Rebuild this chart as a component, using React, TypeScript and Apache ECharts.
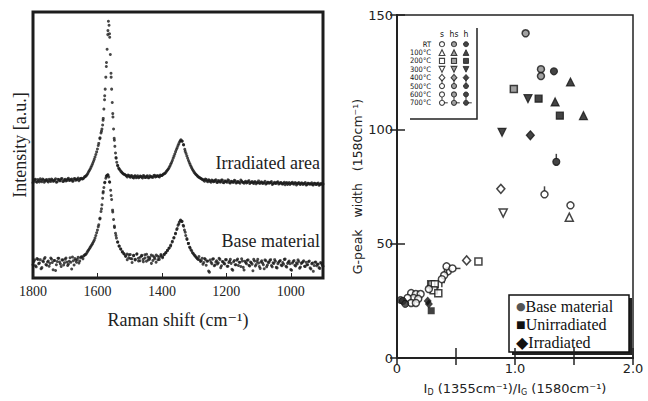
import React, { useEffect, useRef } from 'react';
import * as echarts from 'echarts';

// ---------- Left panel: Raman spectra [wavenumber, intensity(a.u.)] ----------
const RAMAN_TICKS = [1000, 1200, 1400, 1600, 1800];

const IRRADIATED: [number, number][] = [
  [1800, 35.8], [1795, 36.9], [1790, 36.2], [1785, 37.0], [1780, 36.1], [1775, 36.7], [1770, 37.2], [1765, 36.0],
  [1760, 36.8], [1755, 36.4], [1750, 37.1], [1745, 36.3], [1740, 36.9], [1735, 36.5], [1730, 37.3], [1725, 36.2],
  [1720, 37.0], [1715, 36.6], [1710, 37.4], [1705, 36.4], [1700, 37.1], [1695, 36.7], [1690, 37.5], [1685, 36.8],
  [1680, 37.2], [1675, 36.5], [1670, 37.4], [1665, 36.9], [1660, 37.6], [1655, 37.0], [1650, 37.5], [1645, 37.3],
  [1640, 38.0], [1635, 38.4], [1630, 39.3], [1625, 40.4], [1620, 41.6], [1615, 43.0], [1610, 44.6], [1605, 46.4],
  [1600, 48.5], [1596, 50.6], [1592, 52.7], [1589, 54.5], [1586, 56.0], [1584, 57.5], [1582, 60.0], [1580, 63.5],
  [1578, 67.0], [1576, 71.0], [1574, 75.5], [1572, 81.0], [1570, 86.0], [1568, 91.5], [1566, 96.5], [1564, 95.0],
  [1562, 90.5], [1560, 84.0], [1558, 77.0], [1556, 71.0], [1554, 66.0], [1552, 60.5], [1550, 56.0], [1548, 52.5],
  [1546, 49.5], [1544, 47.0], [1542, 45.0], [1540, 43.5], [1537, 42.2], [1534, 41.3], [1530, 40.6], [1525, 39.8],
  [1520, 39.2], [1515, 38.9], [1510, 38.4], [1505, 38.7], [1500, 38.1], [1495, 38.5], [1490, 37.8], [1485, 38.3],
  [1480, 37.7], [1475, 38.4], [1470, 37.9], [1465, 38.2], [1460, 37.6], [1455, 38.3], [1450, 37.8], [1445, 38.4],
  [1440, 37.7], [1435, 38.1], [1430, 37.9], [1425, 38.5], [1420, 38.0], [1415, 38.4], [1410, 38.2], [1405, 38.7],
  [1400, 38.5], [1395, 39.1], [1390, 39.4], [1385, 40.2], [1380, 41.0], [1375, 42.1], [1370, 43.4], [1365, 45.0],
  [1360, 46.6], [1355, 48.3], [1350, 49.8], [1345, 51.2], [1341, 52.0], [1337, 51.4], [1333, 50.2], [1329, 48.4],
  [1325, 46.8], [1320, 45.0], [1315, 43.4], [1310, 42.0], [1305, 40.8], [1300, 39.8], [1295, 39.0], [1290, 38.4],
  [1285, 37.9], [1280, 37.5], [1275, 37.1], [1270, 36.8], [1265, 37.2], [1260, 36.5], [1255, 36.9], [1250, 36.3],
  [1245, 36.8], [1240, 36.2], [1235, 36.7], [1230, 36.0], [1225, 36.6], [1220, 36.1], [1215, 36.8], [1210, 35.9],
  [1205, 36.5], [1200, 36.2], [1195, 36.9], [1190, 35.8], [1185, 36.4], [1180, 36.0], [1175, 36.7], [1170, 35.7],
  [1165, 36.3], [1160, 35.9], [1155, 36.8], [1150, 36.1], [1145, 35.6], [1140, 36.4], [1135, 35.9], [1130, 36.6],
  [1125, 35.8], [1120, 36.3], [1115, 35.5], [1110, 36.2], [1105, 35.8], [1100, 36.5], [1095, 35.6], [1090, 36.1],
  [1085, 35.7], [1080, 36.4], [1075, 35.5], [1070, 36.0], [1065, 35.8], [1060, 36.3], [1055, 35.4], [1050, 36.0],
  [1045, 35.6], [1040, 36.2], [1035, 35.5], [1030, 35.9], [1025, 35.3], [1020, 36.0], [1015, 35.6], [1010, 35.2],
  [1005, 35.9], [1000, 35.5], [995, 36.0], [990, 35.3], [985, 35.8], [980, 35.4], [975, 35.9], [970, 35.2],
  [965, 35.7], [960, 35.4], [955, 35.9], [950, 35.1], [945, 35.6], [940, 35.3], [935, 35.8], [930, 35.0],
  [925, 35.6], [920, 35.2], [915, 35.7], [910, 35.1], [905, 35.5], [900, 35.3],
];

const BASE: [number, number][] = [
  [1800, 5.0], [1795, 6.8], [1790, 4.2], [1785, 7.0], [1780, 5.6], [1775, 3.5], [1770, 6.4], [1765, 7.2],
  [1760, 5.1], [1755, 6.0], [1750, 4.4], [1745, 7.5], [1740, 5.8], [1735, 6.6], [1730, 2.8], [1725, 6.2],
  [1720, 7.4], [1715, 5.3], [1710, 6.8], [1705, 4.9], [1700, 7.1], [1695, 6.0], [1690, 5.2], [1685, 7.6],
  [1680, 3.4], [1675, 6.5], [1670, 7.3], [1665, 5.9], [1660, 7.8], [1655, 6.4], [1650, 8.0], [1645, 7.2],
  [1640, 8.6], [1635, 9.0], [1630, 10.1], [1625, 11.0], [1620, 12.0], [1615, 13.0], [1610, 14.2], [1605, 16.0],
  [1600, 18.0], [1596, 20.0], [1592, 22.5], [1589, 25.0], [1586, 27.5], [1584, 30.0], [1582, 32.5], [1580, 34.0],
  [1577, 36.0], [1574, 37.5], [1571, 38.5], [1568, 38.8], [1565, 38.0], [1562, 36.0], [1559, 33.0], [1556, 29.5],
  [1553, 25.5], [1550, 22.0], [1547, 19.0], [1544, 16.8], [1541, 15.0], [1537, 13.5], [1533, 12.0], [1528, 11.0],
  [1523, 9.8], [1518, 9.2], [1513, 8.4], [1508, 9.0], [1503, 7.6], [1498, 8.8], [1493, 7.2], [1488, 8.5],
  [1483, 6.8], [1478, 8.9], [1473, 7.4], [1468, 6.5], [1463, 8.3], [1458, 7.0], [1453, 8.7], [1448, 6.3],
  [1443, 7.9], [1438, 7.1], [1433, 8.6], [1428, 6.6], [1423, 7.8], [1418, 5.9], [1413, 8.2], [1408, 7.0],
  [1403, 8.8], [1398, 7.6], [1393, 8.9], [1388, 9.6], [1383, 10.3], [1378, 11.2], [1373, 12.0], [1368, 13.5],
  [1363, 15.0], [1358, 16.6], [1354, 18.2], [1350, 19.8], [1346, 21.0], [1342, 21.8], [1338, 21.2], [1334, 19.8],
  [1330, 18.0], [1326, 16.0], [1322, 14.5], [1318, 13.0], [1314, 11.6], [1310, 10.6], [1305, 9.5], [1300, 8.7],
  [1295, 8.0], [1290, 7.3], [1285, 8.1], [1280, 6.2], [1275, 7.4], [1270, 5.8], [1265, 7.0], [1260, 6.3],
  [1255, 2.6], [1250, 6.8], [1245, 5.4], [1240, 7.2], [1235, 4.9], [1230, 6.5], [1225, 5.7], [1220, 7.0],
  [1215, 4.6], [1210, 6.1], [1205, 5.3], [1200, 6.9], [1195, 4.4], [1190, 6.3], [1185, 5.5], [1180, 2.9],
  [1175, 6.6], [1170, 5.0], [1165, 7.1], [1160, 5.9], [1155, 4.3], [1150, 6.4], [1145, 3.0], [1140, 5.8],
  [1135, 6.7], [1130, 4.8], [1125, 6.0], [1120, 5.2], [1115, 7.0], [1110, 4.5], [1105, 6.2], [1100, 5.6],
  [1095, 3.6], [1090, 6.5], [1085, 5.0], [1080, 6.8], [1075, 4.2], [1070, 5.9], [1065, 6.6], [1060, 4.7],
  [1055, 5.7], [1050, 6.9], [1045, 4.0], [1040, 5.4], [1035, 6.3], [1030, 4.9], [1025, 5.8], [1020, 7.0],
  [1015, 4.4], [1010, 5.5], [1005, 6.4], [1000, 3.2], [995, 5.6], [990, 6.6], [985, 4.5], [980, 5.3],
  [975, 6.2], [970, 4.1], [965, 5.7], [960, 6.5], [955, 4.3], [950, 5.0], [945, 6.1], [940, 3.8],
  [935, 5.4], [930, 2.5], [925, 5.9], [920, 4.6], [915, 5.2], [910, 3.6], [905, 5.5], [900, 4.4],
];

// Second read of each spectrum, sampled midway (1797.5, 1792.5, ... 902.5 cm-1)
const SCAN_B_START = 1797.5;
const SCAN_B_STEP = 5;
const IRRADIATED_B = [
  36.4, 37.1, 36.0, 36.6, 37.3, 36.2, 36.9, 36.5, 37.0, 36.1,
  36.7, 37.2, 36.4, 36.8, 36.0, 37.1, 36.6, 37.3, 36.3, 36.9,
  36.5, 37.2, 36.7, 37.0, 36.4, 37.3, 36.8, 37.1, 36.6,
  37.4, 37.2, 37.6, 38.2, 38.8, 39.9, 41.0, 42.3, 43.8, 45.5, 47.4,
  49.8, 52.4, 55.2, 59.3, 68.5, 79.5, 93.0, 91.8, 75.5, 61.8,
  51.8, 45.3, 42.4, 41.0, 40.1, 39.5, 39.0,
  38.6, 38.0, 38.5, 37.9, 38.3, 37.6, 38.4, 38.0, 37.7, 38.3, 37.9, 38.5, 37.8, 38.2, 37.7, 38.4, 38.1, 37.9, 38.6, 38.2, 38.4, 38.0, 38.5,
  38.8, 39.2, 39.8, 40.6, 41.5, 42.8, 44.2, 45.8, 47.5, 49.0, 50.5, 51.6, 51.5, 50.0, 47.6, 45.9, 44.2, 42.7, 41.4, 40.3, 39.4, 38.7, 38.1, 37.7, 37.3,
  36.9, 36.4, 37.0, 36.2, 36.7, 36.0, 36.6, 36.3, 36.9, 35.9,
  36.5, 36.1, 36.8, 35.8, 36.4, 36.0, 36.6, 35.7, 36.3, 36.0,
  36.5, 35.8, 36.2, 35.6, 36.4, 35.9, 36.1, 35.7, 36.3, 35.5,
  36.0, 35.8, 36.2, 35.4, 35.9, 35.6, 36.1, 35.5, 35.8, 35.3,
  36.0, 35.6, 35.9, 35.2, 35.7, 35.5, 36.0, 35.3, 35.8, 35.4,
  35.6, 35.1, 35.9, 35.5, 35.2, 35.7, 35.4, 35.8, 35.0, 35.6,
  35.3, 35.7, 35.2, 35.5, 35.0, 35.6, 35.3, 35.4, 35.1, 35.6,
  35.2, 35.5, 34.9, 35.4, 35.2,
];
const BASE_B = [
  6.2, 4.6, 7.3, 5.4, 6.9, 3.9, 6.1, 7.7, 4.8, 6.4,
  5.5, 7.1, 3.1, 6.6, 5.0, 7.4, 6.0, 4.3, 6.8, 5.7,
  7.5, 4.7, 6.3, 5.9, 7.9, 4.9, 6.7, 7.0, 5.6,
  7.6, 7.9, 8.3, 8.8, 9.6, 10.5, 11.5, 12.5, 13.6, 15.0, 17.0,
  19.3, 22.2, 26.0, 32.0, 35.8, 38.2, 38.7, 36.2, 31.0, 24.8,
  19.5, 16.0, 13.5, 12.0, 10.8, 9.9, 9.0,
  8.1, 6.9, 8.7, 7.3, 5.8, 8.4, 7.0, 9.1, 6.4, 7.8, 8.5, 6.1, 7.5, 8.9, 6.8, 7.7, 5.5, 8.3, 7.2, 8.6, 6.9, 7.9, 8.4,
  8.0, 8.8, 9.5, 10.4, 11.3, 12.4, 13.8, 15.2, 16.8, 18.6, 20.3, 21.5, 21.3, 19.5, 17.2, 14.8, 13.0, 11.4, 10.2, 9.2, 8.4, 7.6, 7.0, 6.8, 6.5,
  5.2, 7.3, 4.8, 6.4, 2.2, 5.9, 7.1, 4.6, 6.0, 5.3,
  7.4, 3.9, 6.2, 5.5, 6.9, 4.4, 5.8, 7.0, 3.3, 6.1,
  5.0, 6.7, 4.7, 5.9, 7.2, 4.0, 6.3, 5.4, 6.8, 4.5,
  5.7, 2.7, 6.4, 5.1, 7.0, 4.3, 6.0, 5.6, 3.5, 6.5,
  4.9, 5.8, 6.9, 4.2, 5.5, 6.3, 3.8, 5.9, 6.6, 4.6,
  5.2, 7.1, 4.1, 6.0, 5.4, 2.9, 6.2, 4.8, 5.7, 6.8,
  3.7, 5.5, 6.1, 4.4, 5.9, 5.0, 6.4, 3.4, 5.6, 4.7,
  6.0, 5.2, 3.9, 5.8, 4.9,
];

// ---------- Right panel: G-peak width vs ID/IG ----------
const TEMPS = ['RT', '100°C', '200°C', '300°C', '400°C', '500°C', '600°C', '700°C'];
const STATES = ['s', 'hs', 'h'];

const RT_S = [[1.47, 66.8], [0.12, 28.4], [0.16, 28.0], [0.20, 28.0], [0.14, 26.3], [0.18, 25.9], [0.09, 26.3], [0.12, 24.1], [0.16, 24.1], [0.43, 37.9]];
const RT_HS = [[1.09, 142.0], [1.22, 126.3], [1.22, 123.3]];
const RT_H = [[1.33, 125.4]];
const T100_S = [[1.46, 61.6]];
const T100_HS: number[][] = [];
const T100_H = [[1.47, 120.7], [1.34, 112.0], [1.58, 106.0]];
const T200_S = [[0.69, 42.2], [0.29, 32.3], [0.32, 32.3], [0.31, 29.7], [0.35, 28.4]];
const T200_HS = [[0.99, 117.7]];
const T200_H = [[1.20, 113.4], [1.38, 106.0]];
const T300_S = [[0.90, 63.4]];
const T300_HS: number[][] = [];
const T300_H = [[1.11, 113.4], [0.89, 98.7]];
const T400_S = [[0.88, 74.0], [0.59, 42.7]];
const T400_HS: number[][] = [];
const T400_H = [[1.13, 97.4]];
const T500_S = [[1.25, 71.6], [0.27, 30.2]];
const T500_HS: number[][] = [];
const T500_H = [[1.35, 85.8]];
const T600_S = [[0.42, 40.1], [0.40, 36.2], [0.38, 34.5]];
const T600_HS: number[][] = [];
const T600_H: number[][] = [];
const T700_S = [[0.47, 39.2]];
const T700_HS: number[][] = [];
const T700_H: number[][] = [];

const BASE_MATERIAL = [[0.03, 25.4], [0.05, 25.0], [0.07, 23.7]];
const UNIRRADIATED = [[0.29, 20.7]];
const IRRADIATED_PTS = [[0.26, 25.0], [0.27, 23.7]];

const LIT: Record<string, number[][][]> = {
  'RT': [RT_S, RT_HS, RT_H],
  '100°C': [T100_S, T100_HS, T100_H],
  '200°C': [T200_S, T200_HS, T200_H],
  '300°C': [T300_S, T300_HS, T300_H],
  '400°C': [T400_S, T400_HS, T400_H],
  '500°C': [T500_S, T500_HS, T500_H],
  '600°C': [T600_S, T600_HS, T600_H],
  '700°C': [T700_S, T700_HS, T700_H],
};

// marker styling per temperature; 500/600/700 are circles with a short stem
const SHAPES: Record<string, any> = {
  'RT': { symbol: 'circle', size: [7, 7], rotate: 0 },
  '100°C': { symbol: 'triangle', size: [8, 8], rotate: 0 },
  '200°C': { symbol: 'rect', size: [7, 7], rotate: 0 },
  '300°C': { symbol: 'triangle', size: [8, 8], rotate: 180 },
  '400°C': { symbol: 'diamond', size: [8, 9], rotate: 0 },
  '500°C': { symbol: 'circle', size: [7, 7], rotate: 0, stem: { size: [1.5, 5], offset: [0, -5.5] } },
  '600°C': { symbol: 'circle', size: [7, 7], rotate: 0, stem: { size: [1.5, 5], offset: [0, 5.5] } },
  '700°C': { symbol: 'circle', size: [7, 7], rotate: 0, stem: { size: [5, 1.5], offset: [5.5, 0] } },
};

const STATE_STYLE: Record<string, any> = {
  s: { color: '#ffffff', borderColor: '#151515', borderWidth: 1.5 },
  hs: { color: '#8a8a8a', borderColor: '#151515', borderWidth: 1.5 },
  h: { color: '#151515', borderColor: '#151515', borderWidth: 1.2 },
};

const SERIF = '"Liberation Serif", "DejaVu Serif", serif';
const SANS = '"DejaVu Sans", Verdana, sans-serif';
const NARROW = '"Liberation Sans Narrow", "DejaVu Sans Condensed", "Liberation Sans", sans-serif';

export default function App() {
  const ref = useRef<HTMLDivElement>(null);
  useEffect(() => {
    if (!ref.current) return;
    const chart = echarts.init(ref.current, null, { renderer: 'svg' });

    const irrB = IRRADIATED_B.map((v, i) => [SCAN_B_START - SCAN_B_STEP * i, v]);
    const baseB = BASE_B.map((v, i) => [SCAN_B_START - SCAN_B_STEP * i, v]);
    const dot = { symbolSize: 3, itemStyle: { color: '#1a1a1a' }, silent: true, xAxisIndex: 0, yAxisIndex: 0, type: 'scatter' };

    const series: any[] = [
      { ...dot, data: IRRADIATED },
      { ...dot, data: irrB },
      { ...dot, data: BASE },
      { ...dot, data: baseB },
    ];

    const addMarker = (xi: number, data: any[], t: string, s: string, k: number) => {
      const sh = SHAPES[t];
      if (sh.stem) {
        series.push({
          type: 'scatter', xAxisIndex: xi, yAxisIndex: xi, data,
          symbol: 'rect', symbolSize: sh.stem.size.map((v: number) => v * k),
          symbolOffset: sh.stem.offset.map((v: number) => v * k),
          itemStyle: { color: '#151515' }, silent: true,
        });
      }
      series.push({
        type: 'scatter', xAxisIndex: xi, yAxisIndex: xi, data,
        symbol: sh.symbol, symbolSize: sh.size.map((v: number) => v * k), symbolRotate: sh.rotate,
        itemStyle: { ...STATE_STYLE[s], borderWidth: STATE_STYLE[s].borderWidth * (k < 1 ? 0.75 : 1) }, silent: true,
      });
    };

    TEMPS.forEach((t) => {
      STATES.forEach((s, si) => {
        addMarker(1, LIT[t][si], t, s, 1);
        addMarker(3, [[s, t]], t, s, 0.72);
      });
    });

    series.push(
      { type: 'scatter', xAxisIndex: 1, yAxisIndex: 1, data: BASE_MATERIAL, symbol: 'circle', symbolSize: 7, itemStyle: { color: '#2a2a2a', borderColor: '#111', borderWidth: 1 }, silent: true },
      { type: 'scatter', xAxisIndex: 1, yAxisIndex: 1, data: UNIRRADIATED, symbol: 'rect', symbolSize: 7, itemStyle: { color: '#111' }, silent: true },
      { type: 'scatter', xAxisIndex: 1, yAxisIndex: 1, data: IRRADIATED_PTS, symbol: 'diamond', symbolSize: [8, 9], itemStyle: { color: '#111' }, silent: true },
    );

    const option: any = {
      animation: false,
      backgroundColor: '#ffffff',
      grid: [
        { left: 33, top: 12, width: 290, height: 266, show: true, borderColor: '#1c1c1c', borderWidth: 3 },
        { left: 397, top: 15, width: 236, height: 348, show: true, borderColor: '#222', borderWidth: 1.5 },
        { left: 436, top: 40, width: 36, height: 67 },
      ],
      xAxis: [
        {
          gridIndex: 0, type: 'value', min: 900, max: 1800, inverse: true,
          axisLine: { show: false },
          axisTick: { show: true, inside: true, length: 5, customValues: RAMAN_TICKS, lineStyle: { color: '#222', width: 1 } },
          axisLabel: { customValues: RAMAN_TICKS, formatter: (v: number) => String(v), fontFamily: SERIF, fontSize: 14, color: '#222', margin: 6 },
          splitLine: { show: false },
          name: 'Raman shift (cm⁻¹)', nameLocation: 'middle', nameGap: 33,
          nameTextStyle: { fontFamily: SERIF, fontSize: 18, color: '#222' },
        },
        {
          gridIndex: 1, type: 'value', min: 0, max: 2, interval: 0.5, position: 'bottom',
          axisLine: { show: true, lineStyle: { color: '#222', width: 2 } },
          axisTick: { show: true, inside: true, length: 10, lineStyle: { color: '#222', width: 1.5 } },
          axisLabel: {
            fontFamily: SANS, fontSize: 13, color: '#222', margin: 4,
            formatter: (v: number) => (v === 0 ? '0' : Number.isInteger(v) ? v.toFixed(1) : ''),
          },
          splitLine: { show: false },
          name: 'I{s|D} (1355cm⁻¹)/I{s|G} (1580cm⁻¹)', nameLocation: 'middle', nameGap: 17,
          nameTextStyle: {
            fontFamily: SANS, fontSize: 13, color: '#222', lineHeight: 16,
            rich: { s: { fontFamily: SANS, fontSize: 8, lineHeight: 8, verticalAlign: 'bottom', color: '#222' } },
          },
        },
        {
          gridIndex: 1, type: 'value', min: 0, max: 2, interval: 0.5, position: 'top',
          axisLine: { show: true, lineStyle: { color: '#222', width: 2 } },
          axisTick: { show: true, inside: true, length: 7, lineStyle: { color: '#222', width: 1.5 } },
          axisLabel: { show: false }, splitLine: { show: false },
        },
        {
          gridIndex: 2, type: 'category', data: STATES, position: 'top',
          axisLine: { show: false }, axisTick: { show: false },
          axisLabel: { fontFamily: NARROW, fontSize: 8.5, lineHeight: 8.5, color: '#111', margin: 2, interval: 0 },
          splitLine: { show: false },
        },
      ],
      yAxis: [
        {
          gridIndex: 0, type: 'value', min: 0, max: 100,
          axisLine: { show: false }, axisTick: { show: false }, axisLabel: { show: false }, splitLine: { show: false },
          name: 'Intensity [a.u.]', nameLocation: 'middle', nameGap: 4,
          nameTextStyle: { fontFamily: SERIF, fontSize: 18, color: '#222' },
        },
        {
          gridIndex: 1, type: 'value', min: 0, max: 150, interval: 50,
          axisLine: { show: true, lineStyle: { color: '#222', width: 2 } },
          axisTick: { show: true, inside: true, length: 8, lineStyle: { color: '#222', width: 1.5 } },
          axisLabel: { fontFamily: SANS, fontSize: 13, color: '#222', margin: 4 },
          splitLine: { show: false },
          name: 'G-peak   width   (1580cm⁻¹)', nameLocation: 'middle', nameGap: 30,
          nameTextStyle: { fontFamily: SANS, fontSize: 12.5, color: '#222' },
        },
        {
          gridIndex: 1, type: 'value', min: 0, max: 150, interval: 50, position: 'right',
          axisLine: { show: true, lineStyle: { color: '#222', width: 2 } },
          axisTick: { show: true, inside: true, length: 7, lineStyle: { color: '#222', width: 1.5 } },
          axisLabel: { show: false }, splitLine: { show: false },
        },
        {
          gridIndex: 2, type: 'category', data: TEMPS, inverse: true,
          axisLine: { show: false }, axisTick: { show: false },
          axisLabel: { fontFamily: NARROW, fontSize: 7.5, lineHeight: 7.5, color: '#111', margin: 5, interval: 0 },
          splitLine: { show: false },
        },
      ],
      series,
      graphic: [
        { type: 'text', right: 648 - 320, top: 154, style: { text: 'Irradiated area', fontFamily: SERIF, fontSize: 18, fill: '#222' } },
        { type: 'text', right: 648 - 320, top: 232, style: { text: 'Base material', fontFamily: SERIF, fontSize: 18, fill: '#222' } },
        { type: 'polyline', shape: { points: [[477, 28], [477, 119], [410, 119]] }, style: { stroke: '#222', lineWidth: 1.5, fill: null } },
        { type: 'rect', shape: { x: 512, y: 298, width: 120, height: 57 }, style: { fill: '#222' } },
        { type: 'rect', shape: { x: 509, y: 295, width: 120, height: 57 }, style: { fill: '#fff', stroke: '#111', lineWidth: 1.5 } },
        { type: 'text', x: 516, y: 298, style: { text: '{c|●}Base material', fontFamily: SERIF, fontSize: 16, fill: '#111', rich: { c: { fontSize: 11, fill: '#555', fontFamily: SANS } } } },
        { type: 'text', x: 516, y: 316, style: { text: '■Unirradiated', fontFamily: SERIF, fontSize: 16, fill: '#111' } },
        { type: 'text', x: 516, y: 334, style: { text: '◆Irradiated', fontFamily: SERIF, fontSize: 16, fill: '#111' } },
      ],
    };

    chart.setOption(option);
    return () => chart.dispose();
  }, []);

  return (
    <div
      ref={ref}
      style={{ position: 'fixed', left: 0, top: 0, width: 648, height: 401, background: '#fff' }}
    />
  );
}
